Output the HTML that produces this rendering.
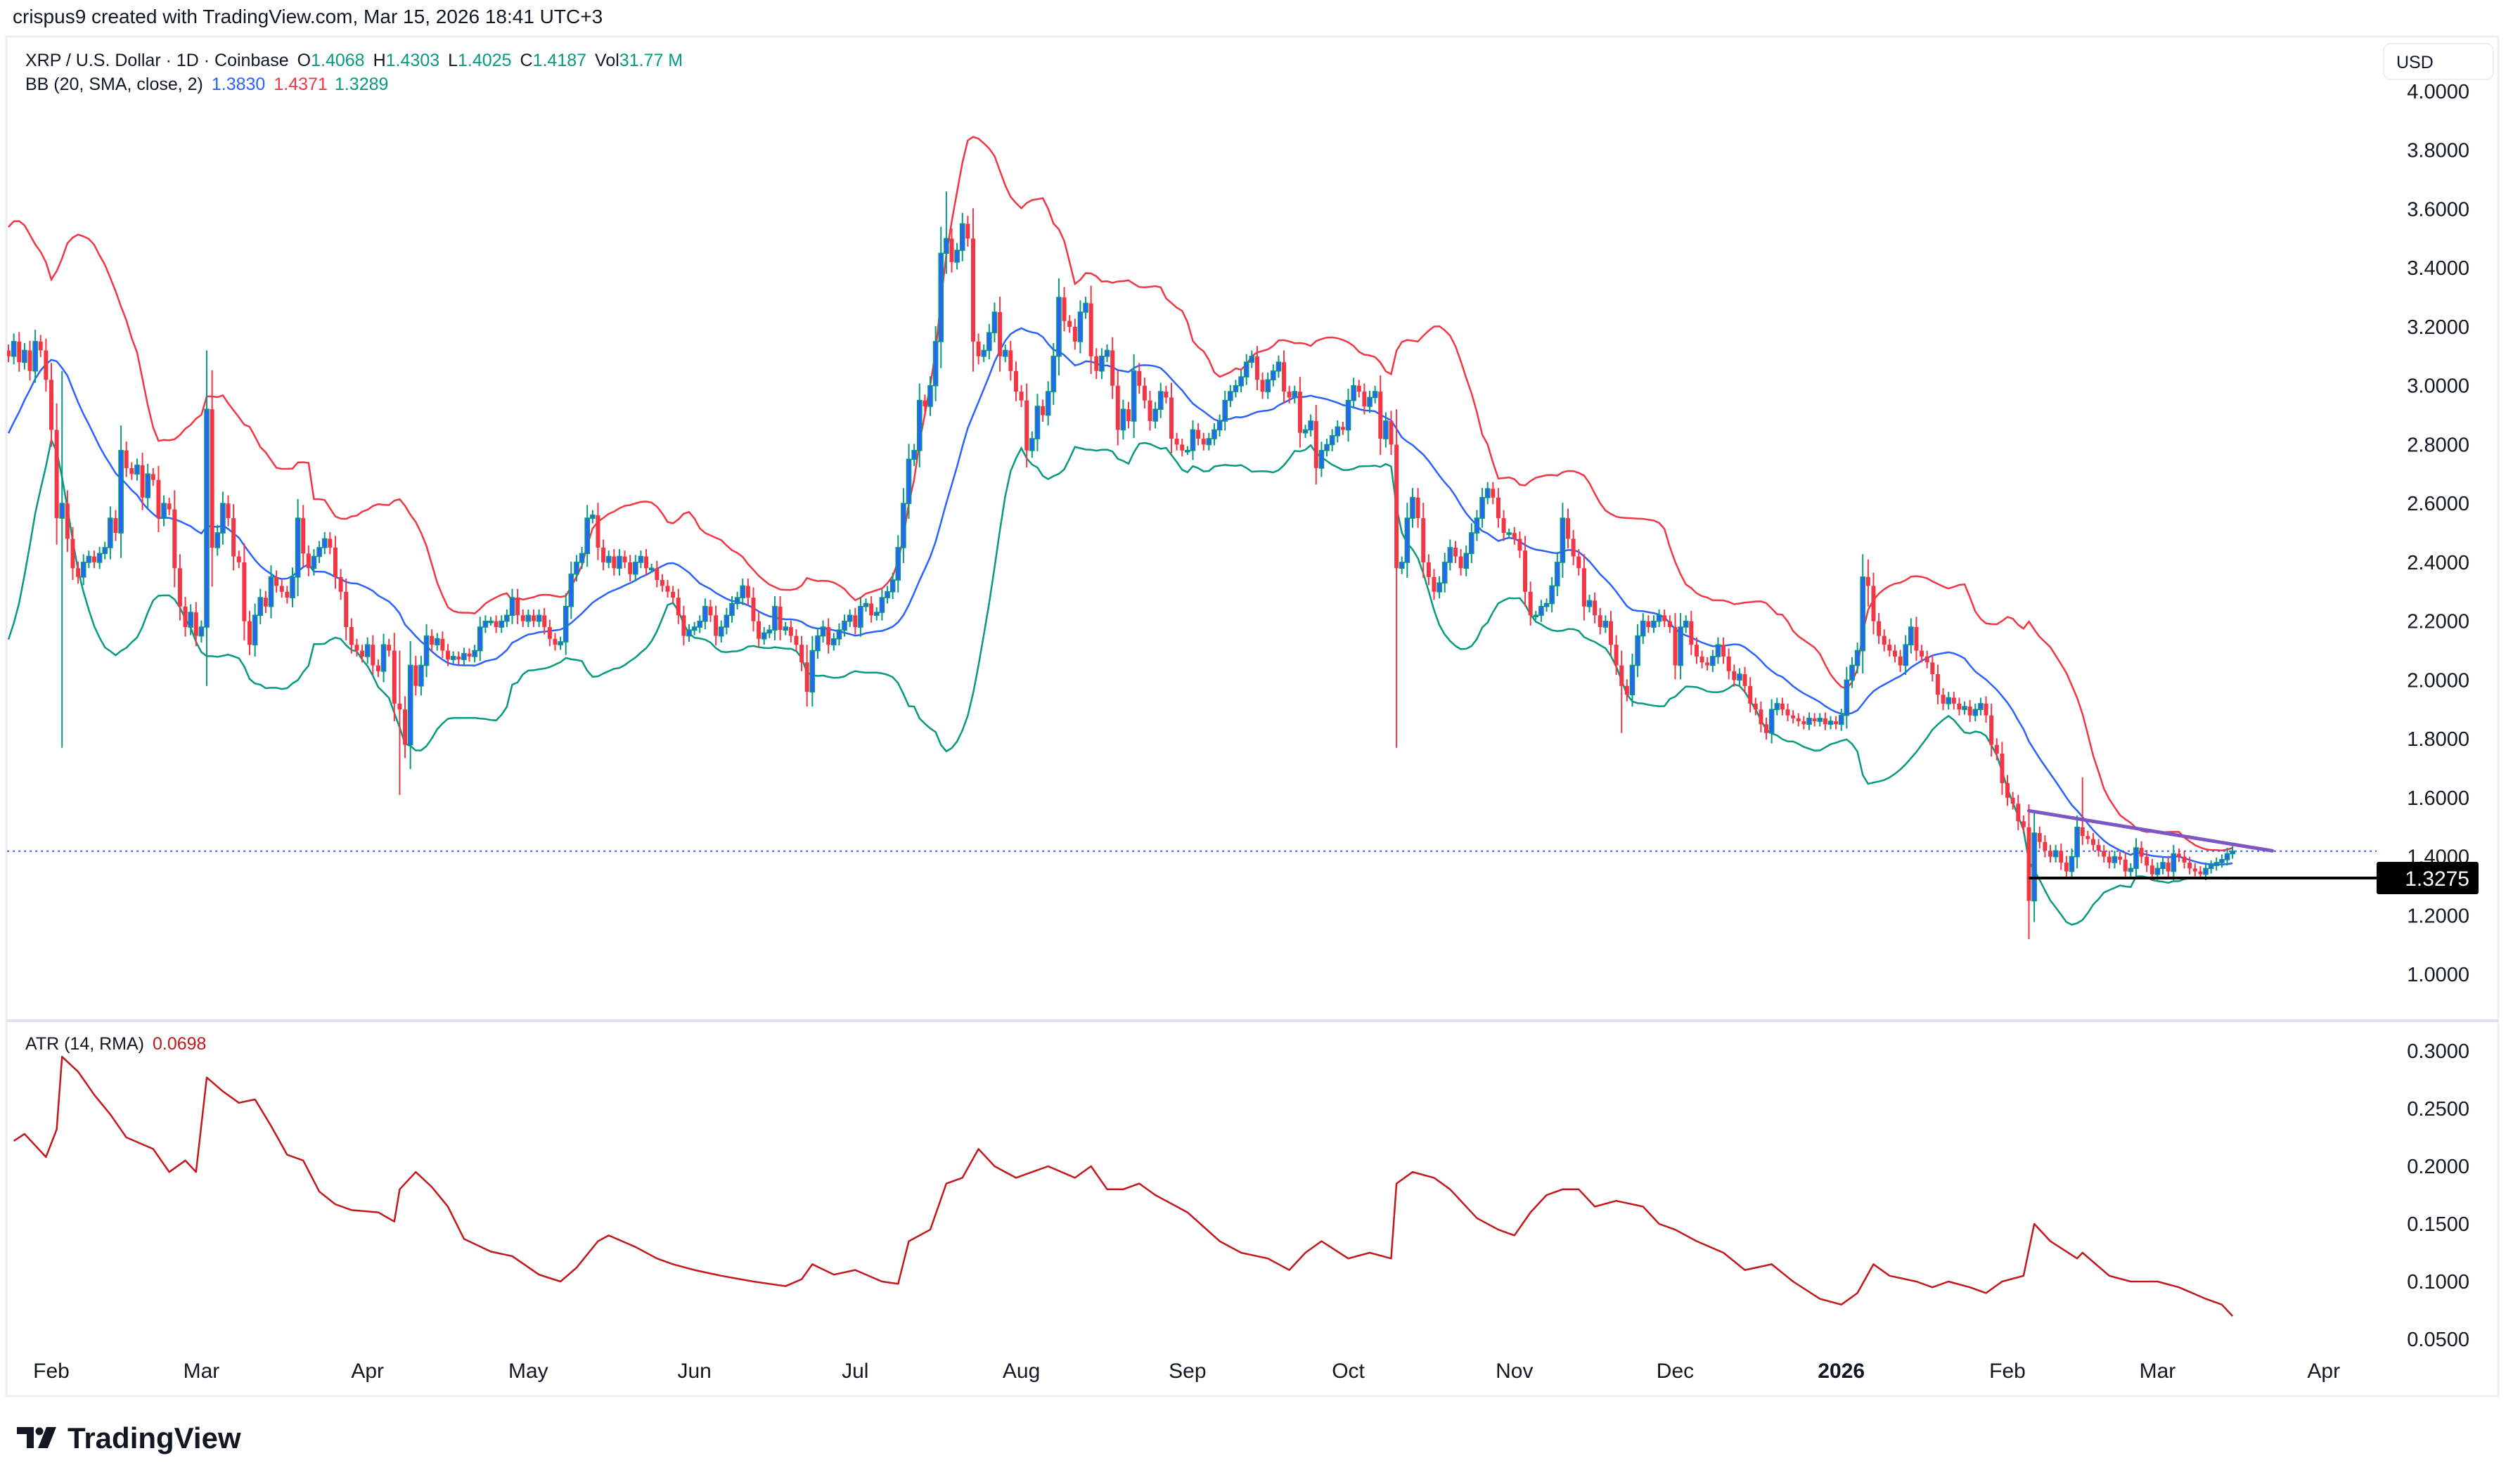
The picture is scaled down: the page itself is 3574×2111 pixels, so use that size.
<!DOCTYPE html>
<html><head><meta charset="utf-8"><style>
html,body{margin:0;padding:0;background:#fff}
body{width:3574px;height:2106px;overflow:hidden;font-family:"Liberation Sans",Arial,sans-serif}
svg text{font-family:"Liberation Sans",Arial,sans-serif;white-space:pre}
</style></head><body>
<svg id="chart" width="3574" height="2106" viewBox="0 0 3574 2106" xmlns="http://www.w3.org/2000/svg"></svg>
<script>
// ---------- data ----------
const startDay = -8; // Jan 24 2025 relative to Feb 1 2025
const preCloses = [2.40,2.38,2.32,2.35,2.40,2.55,2.60,2.55,2.65,3.05,3.00,3.30,3.25,3.20,3.12,3.15,3.18,3.10,3.12];
const closesJan25 = [3.10,3.15,3.08,3.12,3.05,3.15,3.12,3.02];
const closesFeb25 = [2.85,2.55,2.60,2.48,2.38,2.35,2.40,2.42,2.40,2.43,2.45,2.55,2.50,2.78,2.72,2.70,2.73,2.62,2.70,2.68,2.55,2.60,2.58,2.38,2.25,2.18,2.23,2.15];
const closesMar25 = [2.18,2.92,2.45,2.50,2.60,2.55,2.42,2.40,2.20,2.12,2.22,2.28,2.25,2.35,2.32,2.30,2.28,2.35,2.55,2.43,2.38,2.42,2.45,2.48,2.45,2.35,2.30,2.18,2.12,2.10,2.08];
const closesApr25 = [2.12,2.05,2.03,2.12,2.10,1.92,1.90,1.78,2.05,1.98,2.05,2.15,2.12,2.14,2.10,2.07,2.08,2.07,2.09,2.08,2.10,2.18,2.20,2.20,2.18,2.20,2.22,2.28,2.22,2.20];
const closesMay25 = [2.22,2.20,2.22,2.18,2.14,2.12,2.13,2.25,2.36,2.40,2.43,2.55,2.56,2.45,2.40,2.42,2.38,2.42,2.40,2.36,2.40,2.42,2.38,2.38,2.34,2.32,2.30,2.28,2.22,2.15,2.17];
const closesJun25 = [2.18,2.20,2.25,2.22,2.15,2.18,2.22,2.26,2.28,2.32,2.28,2.20,2.14,2.16,2.17,2.25,2.17,2.18,2.15,2.12,2.06,1.96,2.10,2.15,2.18,2.12,2.14,2.17,2.20,2.22];
const closesJul25 = [2.18,2.25,2.26,2.22,2.23,2.28,2.30,2.34,2.45,2.60,2.75,2.78,2.95,2.93,3.00,3.15,3.45,3.50,3.42,3.46,3.55,3.50,3.15,3.10,3.12,3.18,3.25,3.10,3.12,3.05,2.98];
const closesAug25 = [2.95,2.78,2.82,2.93,2.90,2.98,3.10,3.30,3.22,3.20,3.15,3.25,3.28,3.10,3.05,3.10,3.12,3.00,2.85,2.92,2.88,3.05,3.00,2.95,2.88,2.92,2.98,2.96,2.82,2.80,2.78];
const closesSep25 = [2.78,2.85,2.82,2.80,2.82,2.85,2.88,2.95,2.98,3.00,3.03,3.08,3.10,3.02,2.98,3.02,3.05,3.08,2.98,2.96,2.98,2.84,2.85,2.88,2.72,2.78,2.80,2.83,2.86,2.85];
const closesOct25 = [2.95,3.00,2.98,2.93,2.96,2.98,2.82,2.88,2.80,2.38,2.40,2.55,2.62,2.55,2.40,2.35,2.30,2.33,2.40,2.45,2.42,2.38,2.43,2.50,2.55,2.62,2.65,2.62,2.55,2.50,2.50];
const closesNov25 = [2.48,2.44,2.30,2.22,2.22,2.25,2.26,2.32,2.40,2.55,2.48,2.42,2.38,2.25,2.27,2.22,2.18,2.20,2.12,2.05,1.98,1.95,2.05,2.15,2.20,2.18,2.20,2.22,2.20,2.18];
const closesDec25 = [2.05,2.18,2.20,2.12,2.08,2.06,2.05,2.08,2.12,2.08,2.03,2.00,2.02,1.98,1.92,1.90,1.85,1.82,1.90,1.92,1.90,1.88,1.87,1.86,1.85,1.87,1.86,1.87,1.85,1.86,1.85];
const closesJan26 = [1.88,2.00,2.05,2.10,2.35,2.32,2.20,2.15,2.12,2.10,2.08,2.05,2.12,2.18,2.10,2.08,2.06,2.02,1.95,1.92,1.94,1.92,1.90,1.91,1.88,1.90,1.92,1.88,1.78,1.75,1.65];
const closesFeb26 = [1.60,1.58,1.52,1.50,1.25,1.48,1.45,1.42,1.40,1.42,1.38,1.35,1.40,1.50,1.47,1.46,1.44,1.42,1.40,1.38,1.40,1.39,1.35,1.36,1.43,1.40,1.37,1.34];
const closesMar26 = [1.36,1.38,1.35,1.41,1.40,1.38,1.36,1.35,1.34,1.36,1.37,1.38,1.39,1.41,1.4187];
// notable wicks: [dayIndex, high, low]
const wickOverrides = [[2,3.05,1.77],[29,3.00,2.15],[65,2.10,1.61],[141,2.12,1.91],[167,3.66,3.38],[251,2.90,1.77],[293,2.10,1.82],[339,2.41,2.25],[369,1.55,1.12],[370,1.55,1.22],[379,1.67,1.44]];
// ATR (14, RMA): day index and value
const atrDays = [-7,-5,-1,1,2,5,8,11,14,19,22,25,27,29,32,35,38,41,44,47,50,53,56,61,64,65,68,71,74,77,82,86,91,95,98,102,104,109,113,116,120,125,131,137,140,142,146,150,155,158,160,164,167,170,173,176,180,183,186,191,194,197,200,203,206,212,218,222,227,231,234,237,242,246,250,251,254,258,261,266,270,273,276,279,282,285,288,292,297,300,303,307,312,316,321,325,330,334,337,340,343,348,351,354,358,361,364,368,370,373,378,379,384,388,393,397,402,405,407];
const atrValues = [0.222,0.228,0.208,0.232,0.295,0.282,0.262,0.245,0.225,0.215,0.195,0.205,0.195,0.277,0.265,0.255,0.258,0.235,0.210,0.205,0.178,0.167,0.162,0.160,0.152,0.180,0.195,0.182,0.165,0.137,0.126,0.122,0.106,0.100,0.112,0.135,0.140,0.130,0.120,0.115,0.110,0.105,0.100,0.096,0.102,0.115,0.106,0.110,0.100,0.098,0.135,0.145,0.185,0.190,0.215,0.200,0.190,0.195,0.200,0.190,0.200,0.180,0.180,0.185,0.175,0.160,0.135,0.125,0.120,0.110,0.125,0.135,0.120,0.125,0.120,0.185,0.195,0.190,0.180,0.155,0.145,0.140,0.160,0.175,0.180,0.180,0.165,0.170,0.165,0.150,0.145,0.135,0.125,0.110,0.115,0.100,0.085,0.080,0.090,0.115,0.105,0.100,0.095,0.100,0.095,0.090,0.100,0.105,0.150,0.135,0.120,0.125,0.105,0.100,0.100,0.095,0.085,0.080,0.070];
const priceTicks = [4.0,3.8,3.6,3.4,3.2,3.0,2.8,2.6,2.4,2.2,2.0,1.8,1.6,1.4,1.2,1.0];
const atrTicks = [0.30,0.25,0.20,0.15,0.10,0.05];
const monthLabels = ["Feb","Mar","Apr","May","Jun","Jul","Aug","Sep","Oct","Nov","Dec","2026","Feb","Mar","Apr"];
const monthDays = [0,28,59,89,120,150,181,212,242,273,303,334,365,393,424];
const lastPrice = 1.4187;
const supportLevel = 1.3275;
const trendStart = [369,1.556];
const trendEnd = [414.4,1.42];

// ---------- scales ----------
const xOf = d => 73 + d*7.622;
const yP = p => 130 + (4-p)*418.7;
const yA = v => 1495 + (0.30-v)*1640;
const plotRight = 3380;

const closes = [].concat(closesJan25,closesFeb25,closesMar25,closesApr25,closesMay25,closesJun25,closesJul25,closesAug25,closesSep25,closesOct25,closesNov25,closesDec25,closesJan26,closesFeb26,closesMar26);
const allCloses = preCloses.concat(closes);

const NS="http://www.w3.org/2000/svg";
const svg=document.getElementById('chart');
function mk(tag,attrs,parent){const e=document.createElementNS(NS,tag);for(const k in attrs)e.setAttribute(k,attrs[k]);(parent||svg).appendChild(e);return e;}
function txt(s,attrs,parent){const e=mk('text',attrs,parent);e.textContent=s;return e;}
function span(parent,s,fill,dx){const t=mk('tspan',{fill:fill},parent);if(dx)t.setAttribute('dx',dx);t.textContent=s;return t;}

const defs=mk('defs',{});
const cp=mk('clipPath',{id:'pc'},defs); mk('rect',{x:10,y:53,width:plotRight-10,height:1398},cp);
const ca=mk('clipPath',{id:'ac'},defs); mk('rect',{x:10,y:1454,width:plotRight-10,height:466},ca);

let e;
e=mk('rect',{x:9,y:52,width:3544,height:1934,fill:'none',stroke:'#eceef2','stroke-width':3});


e=mk('line',{x1:9,x2:3553,y1:1452,y2:1452,stroke:'#e0e3eb','stroke-width':4});



e=txt('crispus9 created with TradingView.com, Mar 15, 2026 18:41 UTC+3',{x:18,y:33,'font-size':28,fill:'#131722'});



const lg=mk('text',{x:36,y:94,'font-size':25,fill:'#131722'});


span(lg,'XRP / U.S. Dollar · 1D · Coinbase','#131722');
span(lg,'O','#131722',12);span(lg,'1.4068','#089981');
span(lg,'H','#131722',12);span(lg,'1.4303','#089981');
span(lg,'L','#131722',12);span(lg,'1.4025','#089981');
span(lg,'C','#131722',12);span(lg,'1.4187','#089981');
span(lg,'Vol','#131722',12);span(lg,'31.77 M','#089981');
const lg2=mk('text',{x:36,y:128,'font-size':25,fill:'#131722'});


span(lg2,'BB (20, SMA, close, 2)','#131722');
span(lg2,'1.3830','#2962ff',12);span(lg2,'1.4371','#f23645',12);span(lg2,'1.3289','#089981',12);

e=mk('rect',{x:3390,y:62,width:156,height:51,rx:10,fill:'#fff',stroke:'#eceef2','stroke-width':2});


txt('USD',{x:3408,y:97,'font-size':25,fill:'#131722'});

priceTicks.forEach(p=>{
  const t=txt(p.toFixed(4),{x:3512,y:yP(p)+10,'font-size':29,'text-anchor':'end',fill:'#131722'});
  
  
});
atrTicks.forEach(v=>{
  const t=txt(v.toFixed(4),{x:3512,y:yA(v)+10,'font-size':29,'text-anchor':'end',fill:'#131722'});
  
  
});
monthLabels.forEach((m,i)=>{
  const t=txt(m,{x:xOf(monthDays[i]),y:1960,'font-size':30,'text-anchor':'middle',fill:'#131722','font-weight':m==='2026'?'bold':'normal'});
  
  
});

const pg=mk('g',{'clip-path':'url(#pc)'});



const up=[],mid=[],lo=[];
for(let i=0;i<closes.length;i++){
  const j=i+preCloses.length;
  const w=allCloses.slice(j-19,j+1);
  const m=w.reduce((a,b)=>a+b,0)/w.length;
  const sd=Math.sqrt(w.reduce((a,b)=>a+(b-m)*(b-m),0)/w.length);
  const x=xOf(startDay+i);
  up.push(x+','+yP(m+2*sd));mid.push(x+','+yP(m));lo.push(x+','+yP(m-2*sd));
}
e=mk('polyline',{points:up.join(' '),fill:'none',stroke:'#f23645','stroke-width':2.5},pg);


e=mk('polyline',{points:lo.join(' '),fill:'none',stroke:'#089981','stroke-width':2.5},pg);


e=mk('polyline',{points:mid.join(' '),fill:'none',stroke:'#2962ff','stroke-width':2.5},pg);



e=mk('line',{x1:10,x2:plotRight,y1:yP(lastPrice),y2:yP(lastPrice),stroke:'#2962ff','stroke-width':2,'stroke-dasharray':'3 5'},pg);



const wmap={};wickOverrides.forEach(w=>wmap[w[0]]=w);
for(let i=0;i<closes.length;i++){
  const d=startDay+i;
  const c=closes[i];
  const o=i===0?preCloses[preCloses.length-1]:closes[i-1];
  let h=Math.max(o,c)+0.25*Math.abs(c-o)+0.015;
  let l=Math.min(o,c)-0.25*Math.abs(c-o)-0.015;
  if(wmap[d]){h=Math.max(h,wmap[d][1]);l=Math.min(l,wmap[d][2]);}
  const x=xOf(d);
  const upc=c>=o;
  const col=upc?'#089981':'#f23645';
  const g=mk('g',{},pg);
  
  
  mk('line',{x1:x,x2:x,y1:yP(h),y2:yP(l),stroke:col,'stroke-width':2},g);
  const yt=yP(Math.max(o,c)),yb=yP(Math.min(o,c));
  mk('rect',{x:x-3,y:yt,width:6,height:Math.max(2,yb-yt),fill:upc?'#2962ff':'#f23645',stroke:col,'stroke-width':upc?1.6:0},g);
}

e=mk('line',{x1:xOf(369),x2:plotRight,y1:yP(supportLevel),y2:yP(supportLevel),stroke:'#000','stroke-width':4},pg);


e=mk('line',{x1:xOf(trendStart[0]),y1:yP(trendStart[1]),x2:xOf(trendEnd[0]),y2:yP(trendEnd[1]),stroke:'#7e57c2','stroke-width':5,'stroke-linecap':'round'},pg);



e=mk('rect',{x:plotRight,y:yP(supportLevel)-23,width:145,height:46,rx:3,fill:'#000'});


txt(supportLevel.toFixed(4),{x:3512,y:yP(supportLevel)+11,'font-size':30,'text-anchor':'end',fill:'#fff'});

const ag=mk('g',{'clip-path':'url(#ac)'});


const ap=atrDays.map((d,i)=>xOf(d)+','+yA(atrValues[i])).join(' ');
e=mk('polyline',{points:ap,fill:'none',stroke:'#c2181d','stroke-width':2.5,'stroke-linejoin':'round'},ag);


const al=mk('text',{x:36,y:1493,'font-size':25,fill:'#131722'});


span(al,'ATR (14, RMA)','#131722');span(al,'0.0698','#c2181d',12);

const logo=mk('g',{});


mk('path',{d:'M24 2030 H48 V2060 H38 V2040 H24 Z',fill:'#131722'},logo);
mk('circle',{cx:56,cy:2036,r:5.5,fill:'#131722'},logo);
mk('path',{d:'M66 2030 H80 L68 2060 H54 Z',fill:'#131722'},logo);
txt('TradingView',{x:96,y:2060,'font-size':42,'font-weight':'bold',fill:'#131722'},logo);
</script>
</body></html>
